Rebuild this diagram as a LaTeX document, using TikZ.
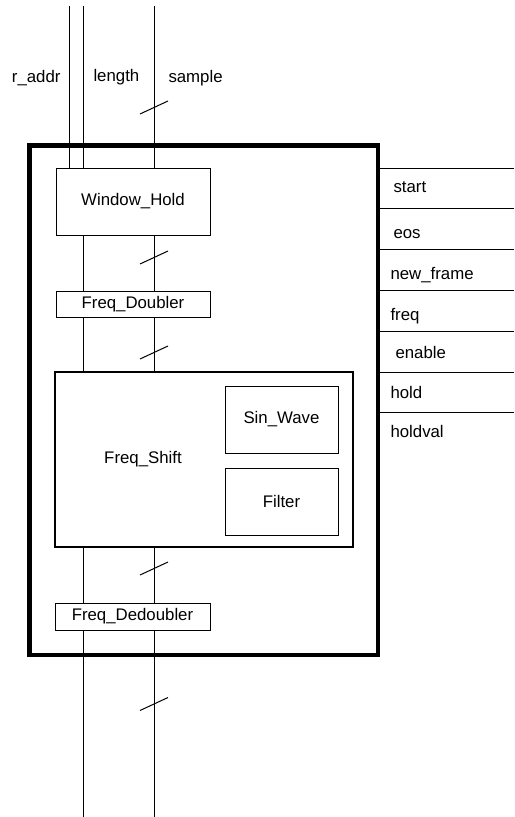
\documentclass[tikz,border=0pt]{standalone}
\usepackage{fontspec}
\setmainfont{Liberation Sans}

\newcommand{\lbl}{\fontsize{12.6}{15}\selectfont}
\newcommand{\busmark}[1]{\draw (#1) ++(-14,6.5) -- ++(28,-13);}

\tikzset{every picture/.style={line width=0.75pt}}
\tikzset{
  blk/.style={draw, inner sep=0pt, font=\lbl},
  port/.style={anchor=base west, inner sep=0pt, font=\lbl},
  sig/.style={inner sep=0pt, font=\lbl}
}

\begin{document}
\begin{tikzpicture}[x=0.75pt,y=0.75pt,yscale=-1,xscale=1]
\useasboundingbox (0,0) rectangle (514,817);

%Outer block
\node [draw, line width=3.4pt, minimum width=261.4pt, minimum height=382.1pt] (top) at (203.75,400.25) {};
%Sub blocks
\node [blk, minimum width=115.5pt, minimum height=50.25pt] (wh) at (133,201.5) {Window\_Hold};
\node [blk, minimum width=115.5pt, minimum height=19.5pt] (fd) at (133,304) {Freq\_Doubler};
\node [blk, line width=2pt, minimum width=223.5pt, minimum height=131.25pt] (fs) at (204,459.5) {};
\node [blk, minimum width=84.75pt, minimum height=50.25pt] (sw) at (281.5,419.5) {Sin\_Wave};
\node [blk, minimum width=84.75pt, minimum height=50.25pt] (fi) at (281.5,501.5) {Filter};
\node [blk, minimum width=116.25pt, minimum height=20.25pt] (fdd) at (132.5,616.5) {Freq\_Dedoubler};
% Text Node
\node [sig, anchor=base] (fslbl) at (143,463) {Freq\_Shift};

%Signal lines
\coordinate (raddr) at (69,6);
\coordinate (len) at (83,6);
\coordinate (smp) at (154,6);
\coordinate (lenEnd) at (83,817);
\coordinate (smpEnd) at (154,817);
\draw (raddr) -- (raddr |- wh.north);
\draw (len) -- (len |- wh.north);
\draw (smp) -- (smp |- wh.north);
\foreach \a/\b in {wh.south/fd.north, fd.south/fs.north, fs.south/fdd.north} {
  \draw (len |- \a) -- (len |- \b);
  \draw (smp |- \a) -- (smp |- \b);
}
\draw (len |- fdd.south) -- (lenEnd);
\draw (smp |- fdd.south) -- (smpEnd);

%Bus marks
\foreach \y in {107.5,257.5,352.5,568.5,704} {\busmark{154,\y}}

% Text Node
\node [sig, anchor=base east] (lraddr) at (61,83) {r\_addr};
\node [sig, anchor=base west] (llen) at (93,82) {length};
\node [sig, anchor=base west] (lsmp) at (168,83) {sample};

%Ports
\foreach \y [count=\i] in {168,208,249,290,331,372,412} {
  \coordinate (p\i) at (514,\y);
  \draw (p\i -| top.east) -- (p\i);
}
\foreach \t/\x/\y [count=\i] in {start/393/192, eos/393/238, new\_frame/390/279, freq/390/320, enable/395/358, hold/390/398, holdval/390/437} {
  \node [port] (pl\i) at (\x,\y) {\t};
}

\end{tikzpicture}
\end{document}
